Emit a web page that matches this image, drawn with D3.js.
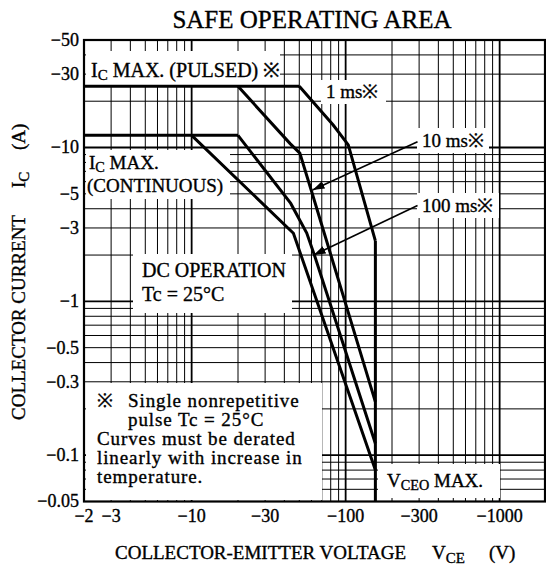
<!DOCTYPE html>
<html>
<head>
<meta charset="utf-8">
<script src="https://cdn.jsdelivr.net/npm/d3@7"></script>
<style>
  body { margin: 0; background: #fff; }
  text { font-family: "Liberation Serif", "Times New Roman", serif; fill: #000; stroke: #000; stroke-width: 0.35px; }
</style>
</head>
<body>
<svg id="chart" width="546" height="567"></svg>
<script>
// tick labels on the two log axes
var xTicks = [-2, -3, -10, -30, -100, -300, -1000];
var yTicks = [-50, -30, -10, -5, -3, -1, -0.5, -0.3, -0.1, -0.05];

// SOA boundaries, VCE (V) and IC (A)
var pulsedV = [-2, -50],   pulsedI = [-25, -25];
var contV   = [-2, -20],   contI   = [-12, -12];
var ms1V   = [-50, -83, -104, -156],          ms1I   = [-25, -14, -10.4, -2.47];
var ms10V  = [-20, -43.6, -50.4, -60.2, -156], ms10I  = [-25, -10.6, -9.2, -5.16, -0.222];
var ms100V = [-20, -44, -55.9, -63.2, -156],   ms100I = [-12, -4.33, -2.78, -1.95, -0.119];
var dcV    = [-10, -45.8, -156],               dcI    = [-12, -2.77, -0.08];
var vceoV  = [-156, -156],                     vceoI  = [-2.47, -0.05];

// arrows from the 10 ms / 100 ms labels (tail, tip)
var arrow10V  = [-293, -61],  arrow10I  = [-10.9, -5.3];
var arrow100V = [-293, -62],  arrow100I = [-4.2, -2.0];

var svg = d3.select("#chart");
var x = d3.scaleLog().domain([-2, -2000]).range([84, 546]);
var y = d3.scaleLog().domain([-50, -0.05]).range([40, 501.5]);
var top_ = 40, bottom = 501.5, left = 84, right = 545;

function isDecade(d) {
  var l = Math.log10(Math.abs(d));
  return Math.abs(l - Math.round(l)) < 1e-6;
}

// grid
var grid = svg.append("g");
grid.selectAll("line.v").data(x.ticks()).join("line")
  .attr("class", "v")
  .attr("x1", x).attr("x2", x).attr("y1", top_).attr("y2", bottom)
  .attr("stroke", "#000")
  .attr("stroke-width", function(d){ return isDecade(d) ? 1.8 : 1; });
grid.selectAll("line.h").data(y.ticks()).join("line")
  .attr("class", "h")
  .attr("y1", y).attr("y2", y).attr("x1", left).attr("x2", right)
  .attr("stroke", "#000")
  .attr("stroke-width", function(d){ return isDecade(d) ? 1.8 : 1; });

// white label panels cut out of the grid
var boxes = [
  [86, 51, 194, 34],    // IC MAX (PULSED)
  [321, 80, 65, 24],    // 1 ms
  [417, 128, 72, 25],   // 10 ms
  [417, 193, 82, 25],   // 100 ms
  [86, 150, 144, 49],   // IC MAX (CONTINUOUS)
  [133, 254, 159, 59],  // DC OPERATION
  [86, 383, 236, 117],  // note
  [378, 464, 122, 34]   // VCEO MAX
];
svg.append("g").selectAll("rect").data(boxes).join("rect")
  .attr("x", function(d){ return d[0]; }).attr("y", function(d){ return d[1]; })
  .attr("width", function(d){ return d[2]; }).attr("height", function(d){ return d[3]; })
  .attr("fill", "#fff");

// frame
svg.append("rect")
  .attr("x", left).attr("y", top_).attr("width", right - left).attr("height", bottom - top_)
  .attr("fill", "none").attr("stroke", "#000").attr("stroke-width", 2.2);

// curves
var line = d3.line().x(function(d){ return x(d[0]); }).y(function(d){ return y(d[1]); });
var curves = [
  [pulsedV, pulsedI], [contV, contI], [ms1V, ms1I], [ms10V, ms10I],
  [ms100V, ms100I], [dcV, dcI], [vceoV, vceoI]
];
svg.append("g").selectAll("path").data(curves).join("path")
  .attr("d", function(c){ return line(d3.zip(c[0], c[1])); })
  .attr("fill", "none").attr("stroke", "#000").attr("stroke-width", 3)
  .attr("stroke-linejoin", "miter");

// arrows
svg.append("defs").append("marker")
  .attr("id", "head").attr("viewBox", "0 0 12 8").attr("refX", 12).attr("refY", 4)
  .attr("markerWidth", 12).attr("markerHeight", 8).attr("markerUnits", "userSpaceOnUse")
  .attr("orient", "auto")
  .append("path").attr("d", "M0,0 L12,4 L0,8 Z").attr("fill", "#000");
[[arrow10V, arrow10I], [arrow100V, arrow100I]].forEach(function(a){
  svg.append("path")
    .attr("d", line(d3.zip(a[0], a[1])))
    .attr("stroke", "#000").attr("stroke-width", 1.6).attr("fill", "none")
    .attr("marker-end", "url(#head)");
});

// axis tick labels
function minus(d){ return "\u2212" + Math.abs(d); }
svg.append("g").selectAll("text").data(yTicks).join("text")
  .attr("x", 79).attr("y", y).attr("dy", "0.33em")
  .attr("text-anchor", "end").attr("font-size", 18)
  .text(minus);
svg.append("g").selectAll("text").data(xTicks).join("text")
  .attr("x", x).attr("y", 522)
  .attr("text-anchor", "middle").attr("font-size", 18)
  .text(minus);

// title
svg.append("text").attr("x", 312).attr("y", 28).attr("text-anchor", "middle")
  .attr("font-size", 25).text("SAFE OPERATING AREA");

// axis titles
svg.append("text").attr("x", 115).attr("y", 559).attr("font-size", 19)
  .text("COLLECTOR-EMITTER VOLTAGE");
var vce = svg.append("text").attr("x", 432).attr("y", 559).attr("font-size", 19);
vce.append("tspan").text("V");
vce.append("tspan").attr("font-size", 15).attr("dy", 4).text("CE");
svg.append("text").attr("x", 489).attr("y", 559).attr("font-size", 19).text("(V)");

var yt = svg.append("g").attr("transform", "translate(25,420) rotate(-90)");
yt.append("text").attr("x", 0).attr("y", 0).attr("font-size", 19).text("COLLECTOR CURRENT");
var ic = yt.append("text").attr("x", 232).attr("y", 0).attr("font-size", 19);
ic.append("tspan").text("I");
ic.append("tspan").attr("font-size", 15).attr("dy", 4).text("C");
yt.append("text").attr("x", 270).attr("y", 0).attr("font-size", 19).text("(A)");

// in-plot labels
function subLabel(px, py, main, sub, rest, size) {
  var t = svg.append("text").attr("x", px).attr("y", py).attr("font-size", size);
  t.append("tspan").text(main);
  t.append("tspan").attr("font-size", size * 0.75).attr("dy", 3).text(sub);
  t.append("tspan").attr("dy", -3).text(rest);
}
subLabel(91, 77, "I", "C", " MAX. (PULSED) \u203B", 20);
subLabel(89, 169, "I", "C", " MAX.", 19);
svg.append("text").attr("x", 87).attr("y", 192).attr("font-size", 19).text("(CONTINUOUS)");
subLabel(387, 487, "V", "CEO", " MAX.", 19);

svg.append("text").attr("x", 326).attr("y", 98).attr("font-size", 19).text("1 ms\u203B");
svg.append("text").attr("x", 422).attr("y", 147).attr("font-size", 19).text("10 ms\u203B");
svg.append("text").attr("x", 422).attr("y", 212).attr("font-size", 19).text("100 ms\u203B");

svg.append("text").attr("x", 142).attr("y", 277).attr("font-size", 20).text("DC OPERATION");
svg.append("text").attr("x", 142).attr("y", 301).attr("font-size", 20).text("Tc = 25\u00B0C");

var note = [
  [97, 407, "\u203B"],
  [128, 407, "Single nonrepetitive"],
  [128, 426, "pulse Tc = 25\u00B0C"],
  [97, 445, "Curves must be derated"],
  [97, 464, "linearly with increase in"],
  [97, 483, "temperature."]
];
svg.append("g").selectAll("text").data(note).join("text")
  .attr("x", function(d){ return d[0]; }).attr("y", function(d){ return d[1]; })
  .attr("font-size", 19).attr("letter-spacing", 0.9)
  .text(function(d){ return d[2]; });
</script>
</body>
</html>
